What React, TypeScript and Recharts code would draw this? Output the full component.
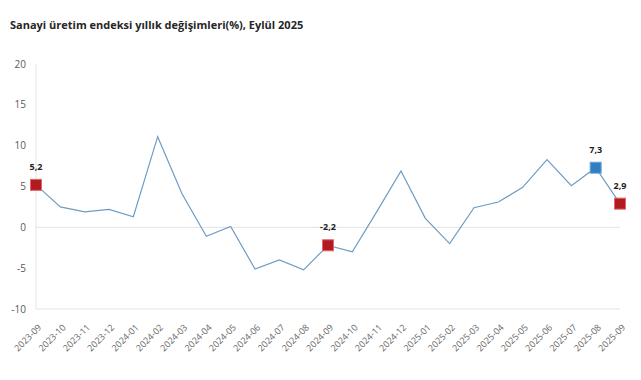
import { LineChart, Line, XAxis, YAxis, ReferenceLine } from 'recharts'

const months = [
  '2023-09', '2023-10', '2023-11', '2023-12', '2024-01', '2024-02', '2024-03',
  '2024-04', '2024-05', '2024-06', '2024-07', '2024-08', '2024-09', '2024-10',
  '2024-11', '2024-12', '2025-01', '2025-02', '2025-03', '2025-04', '2025-05',
  '2025-06', '2025-07', '2025-08', '2025-09',
]
const changes = [
  5.2, 2.5, 1.9, 2.2, 1.3, 11.1, 4.1, -1.1, 0.1, -5.1, -4.0, -5.2, -2.2, -3.0,
  1.9, 6.9, 1.1, -2.0, 2.4, 3.1, 4.9, 8.3, 5.1, 7.3, 2.9,
]
const redMarkers = ['2023-09', '2024-09', '2025-09']
const blueMarkers = ['2025-08']
const yTicks = [-10, -5, 0, 5, 10, 15, 20]

const data = months.map((m, i) => ({ month: m, value: changes[i] }))

const FONT = '"Open Sans", "Noto Sans", sans-serif'

function MarkerDot(props: any) {
  const { cx, cy, payload, index } = props
  const red = redMarkers.includes(payload.month)
  const blue = blueMarkers.includes(payload.month)
  if (!red && !blue) return <g key={index} />
  const fill = red ? '#b11a21' : '#2f7ec1'
  const stroke = red ? '#e0676b' : '#6ea6d8'
  const s = 11
  return (
    <g key={index}>
      <rect x={cx - s / 2} y={cy - s / 2} width={s} height={s} fill={fill} stroke={stroke} strokeWidth={1} />
      <text x={cx} y={cy - 15} textAnchor="middle" fontSize={9} fontWeight={700} fill="#222" fontFamily={FONT}>
        {String(payload.value).replace('.', ',')}
      </text>
    </g>
  )
}

function MonthTick(props: any) {
  const { x, y, payload } = props
  const ax = x + 6
  const ay = y + 11
  return (
    <text
      x={ax}
      y={ay}
      transform={`rotate(-45, ${ax}, ${ay})`}
      textAnchor="end"
      fontSize={9}
      fill="#666"
      fontFamily={FONT}
    >
      {payload.value}
    </text>
  )
}

export default function App() {
  return (
    <div style={{ position: 'absolute', left: 0, top: 0, width: 641, height: 380, background: '#fff' }}>
      <div
        style={{
          position: 'absolute',
          left: 10,
          top: 17,
          fontFamily: FONT,
          fontSize: 11,
          fontWeight: 700,
          color: '#262626',
        }}
      >
        Sanayi üretim endeksi yıllık değişimleri(%), Eylül 2025
      </div>
      <LineChart width={641} height={380} data={data} margin={{ top: 64, right: 21, bottom: 11, left: 0 }}>
        <XAxis
          dataKey="month"
          tick={<MonthTick />}
          tickLine={false}
          axisLine={{ stroke: '#e3e3e3' }}
          height={60}
          interval={0}
          padding={{ left: 0, right: 0 }}
        />
        <YAxis
          domain={[-10, 20]}
          ticks={yTicks}
          width={36}
          tickLine={false}
          axisLine={{ stroke: '#e3e3e3' }}
          tickMargin={4}
          tick={{ fontSize: 10, fill: '#595959', fontFamily: FONT }}
        />
        <ReferenceLine y={0} stroke="#e3e3e3" />
        <Line
          type="linear"
          dataKey="value"
          stroke="#6d9cc4"
          strokeWidth={1.2}
          dot={<MarkerDot />}
          activeDot={false}
          isAnimationActive={false}
        />
      </LineChart>
    </div>
  )
}
